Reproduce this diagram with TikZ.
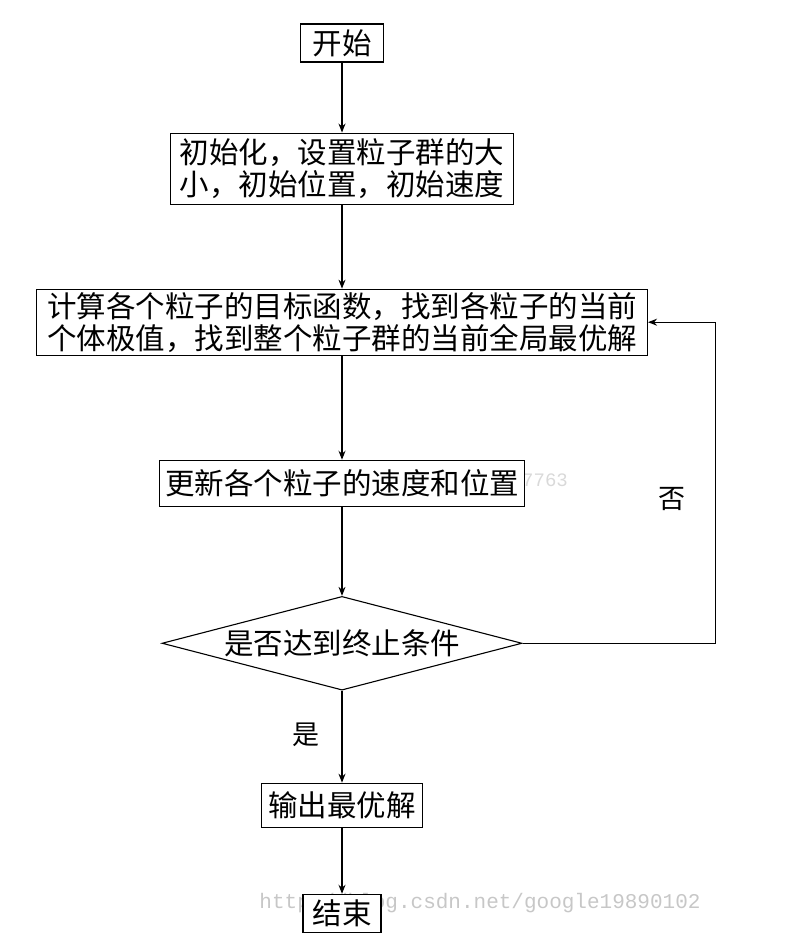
\documentclass[tikz,border=0pt]{standalone}
\usepackage{fontspec}
\newfontfamily\cjk{Noto Sans CJK SC}
\usetikzlibrary{shapes.geometric, arrows.meta, positioning}

\begin{document}
\begin{tikzpicture}[
    x=1pt, y=1pt,
    node distance=70pt,
    font=\cjk\fontsize{29.5}{32}\selectfont,
    process/.style={rectangle, draw, fill=white, line width=1.1pt, align=center, inner xsep=4pt, inner ysep=2pt},
    decision/.style={diamond, draw, fill=white, line width=1.1pt, aspect=3.84, inner sep=2pt, minimum width=357pt, minimum height=93pt},
    label/.style={font=\cjk\fontsize{27}{29}\selectfont},
    mark text/.style={text=black!22, font=\fontspec{Liberation Mono}\fontsize{21}{23}\selectfont},
    arrow/.style={line width=1.1pt, -{Stealth[length=9pt, width=7pt]}}
]
    \useasboundingbox (0,0) rectangle (789,-936);

    % watermark
    \node[mark text] (mark) at (480,-903) {http://blog.csdn.net/google19890102};

    \node[process, minimum width=83pt, minimum height=38pt] (start) at (342,-43) {开始};
    \node[process, below=of start, minimum width=343pt, minimum height=71pt] (init) {初始化，设置粒子群的大\\小，初始位置，初始速度};
    \node[process, below=84pt of init, minimum width=611pt, minimum height=66pt] (calc) {计算各个粒子的目标函数，找到各粒子的当前\\个体极值，找到整个粒子群的当前全局最优解};
    \node[mark text, font=\fontspec{Liberation Mono}\fontsize{19}{21}\selectfont, text=black!15] (mark2) at (545,-480) {7763};
    \node[process, below=104pt of calc, minimum width=365pt, minimum height=46pt] (update) {更新各个粒子的速度和位置};
    \node[decision, below=89pt of update] (cond) {是否达到终止条件};
    \node[process, below=92pt of cond, minimum width=161pt, minimum height=44pt] (output) {输出最优解};
    \node[process, below=66pt of output, minimum width=78pt, minimum height=38pt] (stop) {结束};

    \node[label] (yes) at (306,-735) {是};
    \node[label] (no) at (672,-499) {否};

    % Arrows
    \draw[arrow] (start) -- (init);
    \draw[arrow] (init) -- (calc);
    \draw[arrow] (calc) -- (update);
    \draw[arrow] (update) -- (cond);
    \draw[arrow] (cond) -- (output);
    \draw[arrow] (output) -- (stop);
    \draw[arrow] (cond.east) -- ++(193,0) |- (calc.east);
\end{tikzpicture}
\end{document}
